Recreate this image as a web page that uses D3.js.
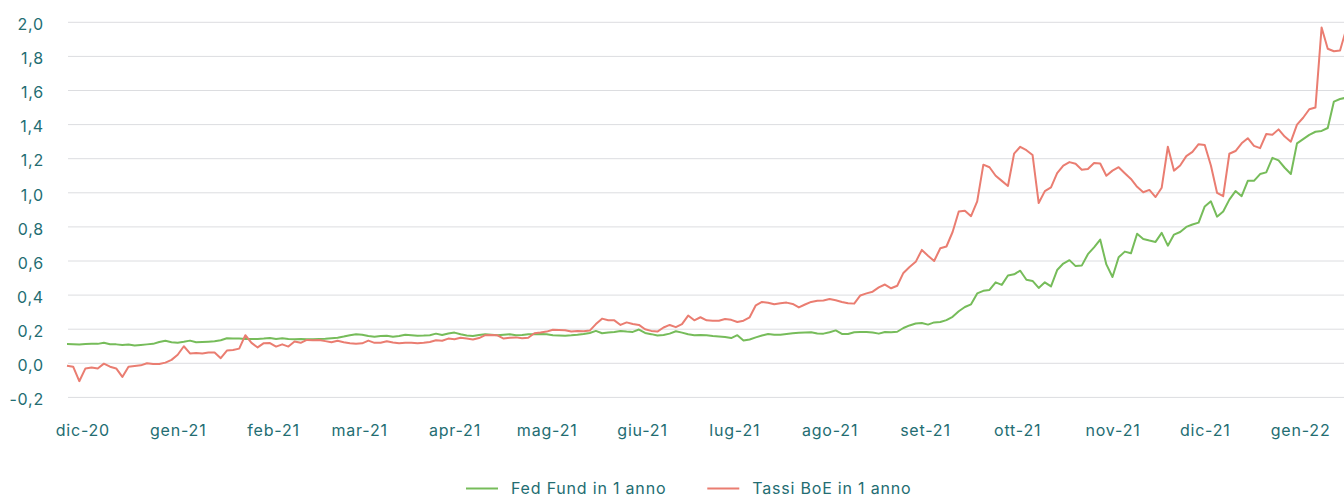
<!DOCTYPE html>
<html>
<head>
<meta charset="utf-8">
<script src="https://cdn.jsdelivr.net/npm/d3@7"></script>
<style>
  body { margin: 0; background: #fff; }
  svg { display: block; font-family: Inter, "Open Sans", sans-serif; }
</style>
</head>
<body>
<svg id="svg" width="1344" height="497"></svg>
<script>
// month names (Italian) and y tick values
const monthsIt = ["gen","feb","mar","apr","mag","giu","lug","ago","set","ott","nov","dic"];
const yTicks = [-0.2, 0, 0.2, 0.4, 0.6, 0.8, 1.0, 1.2, 1.4, 1.6, 1.8, 2.0];

// one reading every 2 days starting 26 Nov 2020
const startDate = new Date(2020, 10, 26);
const endDate = new Date(2022, 0, 16);
const stepDays = 2;

const fedFund = [
  0.113, 0.112, 0.110, 0.113, 0.115, 0.114, 0.120, 0.112, 0.111, 0.108, 0.110,
  0.104, 0.108, 0.111, 0.114, 0.125, 0.132, 0.124, 0.121, 0.126, 0.133,
  0.123, 0.125, 0.127, 0.129, 0.135, 0.147, 0.146, 0.145, 0.143, 0.142,
  0.143, 0.145, 0.149, 0.143, 0.147, 0.143, 0.141, 0.143, 0.141, 0.141,
  0.143, 0.144, 0.147, 0.150, 0.157, 0.165, 0.170, 0.168, 0.160, 0.156,
  0.160, 0.162, 0.156, 0.160, 0.167, 0.165, 0.162, 0.163, 0.165, 0.174,
  0.166, 0.175, 0.180, 0.170, 0.163, 0.160, 0.166, 0.170, 0.167, 0.164,
  0.168, 0.170, 0.165, 0.166, 0.170, 0.171, 0.172, 0.170, 0.164, 0.163,
  0.162, 0.164, 0.167, 0.172, 0.178, 0.190, 0.176, 0.181, 0.184, 0.190,
  0.186, 0.184, 0.198, 0.178, 0.171, 0.163, 0.166, 0.174, 0.188, 0.180,
  0.170, 0.165, 0.166, 0.164, 0.160, 0.157, 0.154, 0.148, 0.165, 0.134,
  0.140, 0.152, 0.163, 0.172, 0.168, 0.168, 0.172, 0.176, 0.179, 0.181,
  0.182, 0.175, 0.174, 0.182, 0.193, 0.172, 0.172, 0.182, 0.183, 0.184,
  0.180, 0.174, 0.184, 0.182, 0.185, 0.207, 0.222, 0.233, 0.236, 0.227,
  0.240, 0.242, 0.253, 0.273, 0.305, 0.330, 0.346, 0.410, 0.425, 0.430,
  0.475, 0.460, 0.515, 0.522, 0.543, 0.490, 0.483, 0.442, 0.475, 0.451,
  0.547, 0.585, 0.605, 0.570, 0.573, 0.640, 0.680, 0.726, 0.580, 0.506,
  0.622, 0.655, 0.645, 0.760, 0.729, 0.720, 0.712, 0.765, 0.690, 0.755,
  0.770, 0.800, 0.814, 0.825, 0.920, 0.950, 0.860, 0.890, 0.960, 1.010,
  0.980, 1.070, 1.070, 1.110, 1.120, 1.205, 1.190, 1.147, 1.110, 1.290,
  1.315, 1.340, 1.358, 1.363, 1.380, 1.535, 1.550, 1.558
];

const boeRates = [
  -0.014, -0.020, -0.105, -0.030, -0.025, -0.030, -0.002, -0.020, -0.030, -0.080, -0.020,
  -0.016, -0.012, 0.000, -0.004, -0.004, 0.004, 0.020, 0.050, 0.100, 0.058,
  0.060, 0.058, 0.063, 0.063, 0.030, 0.075, 0.078, 0.086, 0.165, 0.120,
  0.093, 0.118, 0.119, 0.098, 0.111, 0.098, 0.128, 0.120, 0.137, 0.135,
  0.137, 0.130, 0.123, 0.132, 0.124, 0.118, 0.115, 0.117, 0.133, 0.120,
  0.120, 0.129, 0.122, 0.117, 0.120, 0.120, 0.117, 0.120, 0.125, 0.135,
  0.132, 0.145, 0.141, 0.150, 0.145, 0.140, 0.148, 0.165, 0.166, 0.164,
  0.145, 0.150, 0.152, 0.147, 0.150, 0.176, 0.180, 0.186, 0.197, 0.196,
  0.194, 0.186, 0.190, 0.188, 0.192, 0.230, 0.262, 0.253, 0.252, 0.225,
  0.240, 0.230, 0.225, 0.200, 0.190, 0.186, 0.210, 0.225, 0.212, 0.230,
  0.280, 0.252, 0.270, 0.252, 0.250, 0.250, 0.260, 0.255, 0.242, 0.250,
  0.270, 0.340, 0.360, 0.355, 0.346, 0.352, 0.356, 0.348, 0.328, 0.345,
  0.360, 0.367, 0.368, 0.377, 0.370, 0.360, 0.352, 0.350, 0.398, 0.410,
  0.420, 0.445, 0.462, 0.440, 0.455, 0.530, 0.565, 0.595, 0.665, 0.631,
  0.600, 0.675, 0.685, 0.770, 0.890, 0.895, 0.863, 0.950, 1.165, 1.150,
  1.100, 1.070, 1.040, 1.230, 1.270, 1.250, 1.222, 0.940, 1.010, 1.032,
  1.115, 1.160, 1.180, 1.170, 1.135, 1.140, 1.175, 1.172, 1.100, 1.130,
  1.150, 1.115, 1.081, 1.035, 1.003, 1.017, 0.975, 1.030, 1.270, 1.130,
  1.160, 1.215, 1.240, 1.285, 1.280, 1.160, 1.000, 0.980, 1.229, 1.245,
  1.290, 1.320, 1.275, 1.262, 1.345, 1.340, 1.372, 1.330, 1.300, 1.400,
  1.440, 1.490, 1.500, 1.970, 1.845, 1.830, 1.835, 1.960
];

const seriesNames = ["Fed Fund in 1 anno", "Tassi BoE in 1 anno"];
const seriesColors = ["#76bc5a", "#ea7d71"];

const textColor = "#236d72";
const gridColor = "#dcdde0";
const labelFont = "Inter, sans-serif";
const labelSpacing = "0.8px";

const svg = d3.select("#svg");
const W = 1344;
const left = 68;

const dates = d3.range(fedFund.length).map(i => d3.timeDay.offset(startDate, stepDays * i));

const x = d3.scaleTime()
    .domain([startDate, endDate])
    .range([67, 1346.2]);

const y = d3.scaleLinear()
    .domain([-0.2, 2.0])
    .range([397.4, 22.3]);

const itLocale = d3.formatLocale({decimal: ",", thousands: ".", grouping: [3], currency: ["€", ""], minus: "-"});
const yFmt = itLocale.format(".1f");

const itTime = d3.timeFormatLocale({
    dateTime: "%A %e %B %Y, %X", date: "%d/%m/%Y", time: "%H:%M:%S",
    periods: ["AM", "PM"],
    days: ["Domenica","Lunedì","Martedì","Mercoledì","Giovedì","Venerdì","Sabato"],
    shortDays: ["Dom","Lun","Mar","Mer","Gio","Ven","Sab"],
    months: ["Gennaio","Febbraio","Marzo","Aprile","Maggio","Giugno","Luglio","Agosto","Settembre","Ottobre","Novembre","Dicembre"],
    shortMonths: monthsIt
});
const xFmt = itTime.format("%b-%y");

// gridlines
svg.append('g').selectAll('line')
    .data(yTicks)
    .enter()
    .append('line')
    .attr('x1', left)
    .attr('x2', W)
    .attr('y1', d => y(d))
    .attr('y2', d => y(d))
    .attr('stroke', gridColor)
    .attr('stroke-width', 1);

// y axis labels
const yAxis = d3.axisLeft(y).tickValues(yTicks).tickFormat(yFmt).tickSize(0).tickPadding(24);
const gy = svg.append('g').attr('transform', `translate(${left},0)`).call(yAxis);
gy.select('.domain').remove();
gy.selectAll('text')
    .attr('dy', '0.45em')
    .attr('fill', textColor)
    .style('font-size', '16px')
    .style('letter-spacing', labelSpacing)
    .style('font-family', labelFont);

// x axis labels, one per month
const monthTicks = d3.timeMonth.range(new Date(2020, 11, 1), new Date(2022, 0, 2));
const xAxis = d3.axisBottom(x).tickValues(monthTicks).tickFormat(xFmt).tickSize(0).tickPadding(27);
const gx = svg.append('g').attr('transform', `translate(0,${y(-0.2)})`).call(xAxis);
gx.select('.domain').remove();
gx.selectAll('text')
    .attr('fill', textColor)
    .style('font-size', '16px')
    .style('letter-spacing', labelSpacing)
    .style('font-family', labelFont);

// lines
const line = d3.line()
    .x((d, i) => x(dates[i]))
    .y(d => y(d));

[fedFund, boeRates].forEach((vals, k) => {
    svg.append('path')
        .datum(vals)
        .attr('fill', 'none')
        .attr('stroke', seriesColors[k])
        .attr('stroke-width', 2)
        .attr('stroke-linejoin', 'round')
        .attr('d', line);
});

// legend
const legend = svg.append('g');
let lx = 466;
seriesNames.forEach((name, k) => {
    legend.append('line')
        .attr('x1', lx).attr('x2', lx + 32)
        .attr('y1', 488.5).attr('y2', 488.5)
        .attr('stroke', seriesColors[k])
        .attr('stroke-width', 2);
    const t = legend.append('text')
        .attr('x', lx + 45)
        .attr('y', 494)
        .attr('fill', textColor)
        .style('font-size', '16px')
        .style('letter-spacing', labelSpacing)
        .style('font-family', labelFont)
        .text(name);
    lx = lx + 45 + t.node().getComputedTextLength() + 41;
});
</script>
</body>
</html>
